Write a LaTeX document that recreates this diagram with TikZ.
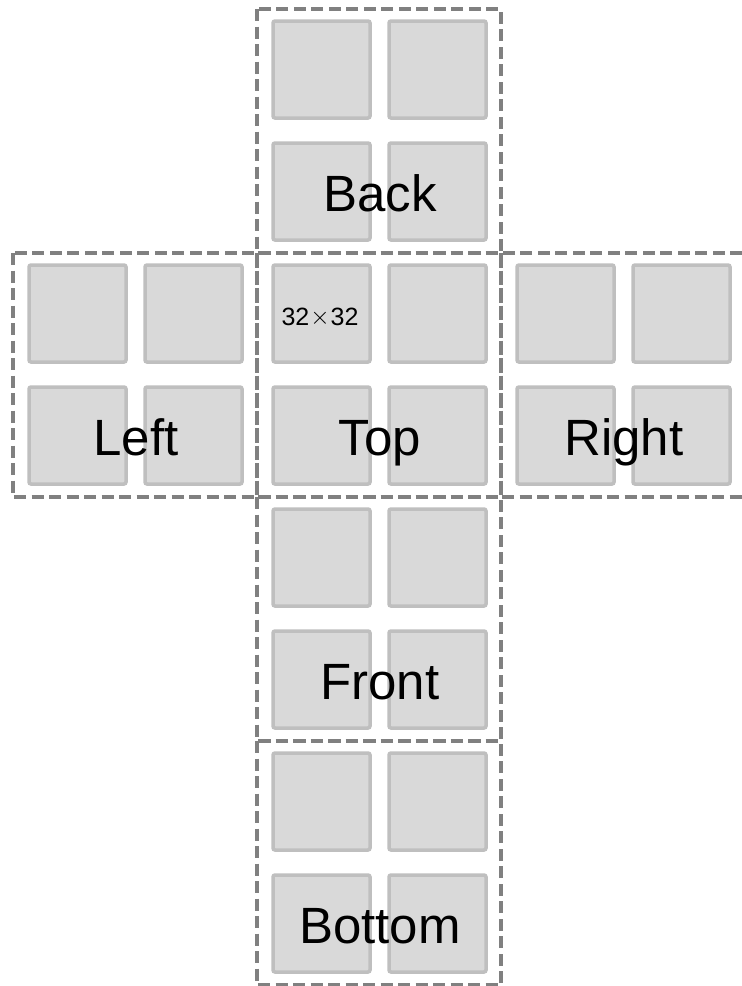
\documentclass[tikz,border=0pt]{standalone}
\usepackage{fontspec}
\setmainfont{Liberation Sans}
\definecolor{cellfill}{HTML}{D9D9D9}
\definecolor{cellborder}{HTML}{BFBFBF}
\definecolor{dashgray}{HTML}{808080}
\begin{document}
\begin{tikzpicture}[x=1pt,y=-1pt,
  cell/.style={shape=rectangle, draw=cellborder, fill=cellfill, line width=3.5pt, rounded corners=2pt,
    minimum width=97pt, minimum height=97pt, inner sep=0pt, outer sep=0pt},
  facebox/.style={draw=dashgray, line width=3.5pt, dash pattern=on 12pt off 5.5pt},
  lbl/.style={font=\fontsize{51}{51}\selectfont, anchor=base, inner sep=0pt},
  small/.style={font=\fontsize{25}{25}\selectfont, anchor=base, inner sep=0pt}]
  \fill[white] (0,0) rectangle (742,986);
  \useasboundingbox (0,0) rectangle (742,986);
  \foreach \n/\x/\y/\t in {back/257/9/Back, left/13/253/Left, top/257/253/Top, right/501/253/Right, front/257/497/Front, bottom/257/741/Bottom} {
    \node[cell] (\n-11) at (\x+64.5,\y+60.5) {};
    \node[cell] (\n-12) at (\x+180.5,\y+60.5) {};
    \node[cell] (\n-21) at (\x+64.5,\y+182.5) {};
    \node[cell] (\n-22) at (\x+180.5,\y+182.5) {};
    \node[lbl] (\n-label) at (\x+123,\y+202) {\t};
  }
  \foreach \n/\x/\y in {back/257/9, left/13/253, top/257/253, right/501/253, front/257/497, bottom/257/741} {
    \draw[facebox] (\x,\y) rectangle ++(244,244);
  }
  \node[small] (size-label) at (320,325) {32\kern1pt{\fontsize{36}{36}\selectfont\raisebox{1pt}{$\times$}}\kern1pt32};
\end{tikzpicture}
\end{document}
